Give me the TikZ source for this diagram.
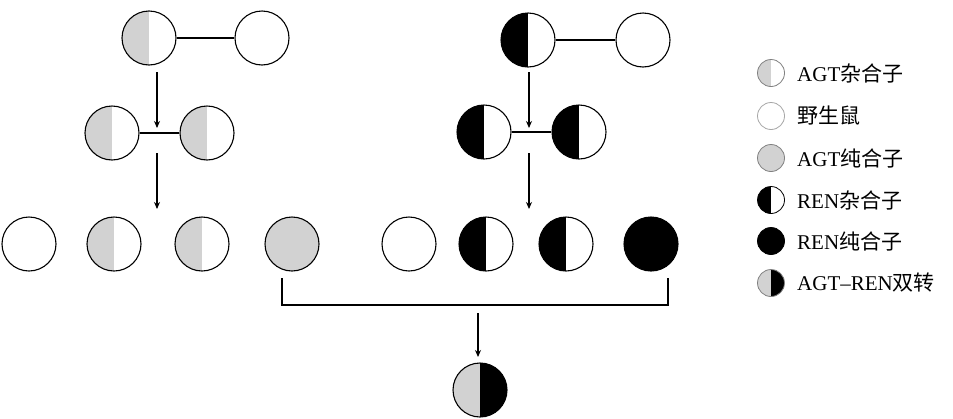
\documentclass[tikz,border=0pt]{standalone}
\usepackage{fontspec}
\setmainfont{Liberation Serif}
\newfontfamily\cjk{Noto Sans CJK SC}
\usetikzlibrary{arrows.meta}
\definecolor{lg}{HTML}{D2D2D2}
\begin{document}
\begin{tikzpicture}[x=1pt,y=-1pt,
  ind/.style={circle,draw=black,line width=1.1pt,minimum size=54pt,inner sep=0pt},
  halves/.style 2 args={path picture={
     \fill[#1] (path picture bounding box.south west) rectangle (path picture bounding box.north);
     \fill[#2] (path picture bounding box.south) rectangle (path picture bounding box.north east);}},
  wt/.style={fill=white},
  agth/.style={halves={lg}{white}},
  agto/.style={fill=lg},
  renh/.style={halves={black}{white}},
  reno/.style={fill=black},
  dbl/.style={halves={lg}{black}},
  lk/.style={line width=1.1pt},
  arr/.style={line width=1.1pt,-{Stealth[length=7pt,width=6pt]}},
  leg/.style={circle,draw=black,line width=0.8pt,minimum size=27pt,inner sep=0pt},
  legt/.style={anchor=west,font=\fontsize{21}{24}\selectfont,inner sep=0pt}
]
\useasboundingbox[fill=white] (0,0) rectangle (953,418);
% left family
\node[ind,agth] (L1) at (149,38) {};
\node[ind,wt] (L2) at (262,38) {};
\draw[lk] (L1) -- (L2);
\coordinate (La) at (157,72);
\coordinate (Lb) at (157,128);
\draw[arr] (La) -- (Lb);
\node[ind,agth] (L3) at (112,133) {};
\node[ind,agth] (L4) at (207,133) {};
\draw[lk] (L3) -- (L4);
\coordinate (Lc) at (157,153);
\coordinate (Ld) at (157,209);
\draw[arr] (Lc) -- (Ld);
\node[ind,wt] (L5) at (29,244) {};
\node[ind,agth] (L6) at (114,244) {};
\node[ind,agth] (L7) at (202,244) {};
\node[ind,agto] (L8) at (292,244) {};
% right family
\node[ind,renh] (R1) at (528,40) {};
\node[ind,wt] (R2) at (643,40) {};
\draw[lk] (R1) -- (R2);
\coordinate (Ra) at (529,72);
\coordinate (Rb) at (529,128);
\draw[arr] (Ra) -- (Rb);
\node[ind,renh] (R3) at (484,132) {};
\node[ind,renh] (R4) at (579,132) {};
\draw[lk] (R3) -- (R4);
\coordinate (Rc) at (529,153);
\coordinate (Rd) at (529,209);
\draw[arr] (Rc) -- (Rd);
\node[ind,wt] (R5) at (409,244) {};
\node[ind,renh] (R6) at (486,244) {};
\node[ind,renh] (R7) at (566,244) {};
\node[ind,reno] (R8) at (651,244) {};
% bracket
\coordinate (B1) at (282,278);
\coordinate (B2) at (282,305);
\coordinate (B3) at (668,305);
\coordinate (B4) at (668,278);
\draw[lk] (B1) -- (B2) -- (B3) -- (B4);
\coordinate (Ba) at (478,313);
\coordinate (Bb) at (478,357);
\draw[arr] (Ba) -- (Bb);
\node[ind,dbl] (D) at (480,390) {};
% legend
\node[leg,agth,draw=gray] (g1) at (771,73) {};
\node[leg,wt,draw=gray!70] (g2) at (771,116) {};
\node[leg,agto,draw=gray] (g3) at (771,158) {};
\node[leg,renh] (g4) at (771,200) {};
\node[leg,reno] (g5) at (771,241) {};
\node[leg,dbl,draw=gray] (g6) at (771,283) {};
\node[legt] (t1) at (797,73) {AGT{\cjk 杂合子}};
\node[legt] (t2) at (797,116) {\cjk 野生鼠};
\node[legt] (t3) at (797,158) {AGT{\cjk 纯合子}};
\node[legt] (t4) at (797,200) {REN{\cjk 杂合子}};
\node[legt] (t5) at (797,241) {REN{\cjk 纯合子}};
\node[legt] (t6) at (797,283) {AGT–REN{\cjk 双转}};
\end{tikzpicture}
\end{document}
